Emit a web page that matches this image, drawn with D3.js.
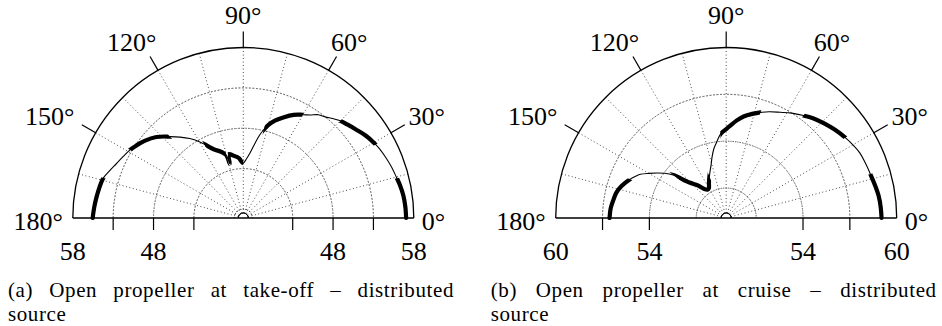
<!DOCTYPE html>
<html>
<head>
<meta charset="utf-8">
<script src="https://cdn.jsdelivr.net/npm/d3@7"></script>
<style>
  html, body { margin: 0; padding: 0; background: #fff; }
  svg { display: block; }
</style>
</head>
<body>
<svg id="chart" width="942" height="326"></svg>
<script>
// ---------------- DATA ----------------
// Panel (a): open propeller at take-off
const anglesA = [0,4,8,12,15,19,23,27,30,34,38,42,45,48,51,54,57,60,64,68,72,75,77,79,81,84,87,90,92,94,96,99,101,103,104,105,107,109,113,117,120,124,128,132,137,142,146,149,153,157,161,164,168,172,176,180];
const splA    = [57.05,57.0,56.9,56.7,56.5,56.3,56.05,55.8,55.55,55.15,54.65,54.2,53.9,53.45,53.0,52.7,52.1,51.65,51.1,50.35,49.55,48.8,48.1,47.3,46.3,45.0,44.2,43.7,43.9,44.3,44.5,44.7,44.9,45.0,43.8,44.9,45.3,45.6,46.1,47.0,47.8,48.75,49.6,50.45,51.6,52.4,52.9,53.25,53.6,54.0,54.5,54.9,55.1,55.25,55.4,55.54];
const thickA  = [[0,14.5],[29,45],[60,77],[90,103.5],[105,118],[132,149],[164,180]];
const domainA = [37.5, 58];
const ringsA  = [38, 43, 48, 53];
const ticksA  = [43, 48, 53];
const tickLabelsA = [48, 58];
const captionA = ["(a) Open propeller at take-off – distributed", "source"];

// Panel (b): open propeller at cruise
const anglesB = [0,4,8,12,17,21,26,30,34,39,44,49,53,58,63,68,72,76,80,84,88,91,94,97,100,103,106,109,112,116,120,123,127,131,136,141,144,147,150,153,155,158,163,167,171,175,180];
const splB    = [59.03,59.0,58.95,58.85,58.73,58.67,58.6,58.45,58.28,58.05,57.8,57.55,57.3,57.0,56.68,56.42,56.19,55.95,55.7,55.35,54.95,54.7,54.45,54.0,53.6,53.1,52.6,52.25,51.95,51.6,51.3,51.25,51.4,51.85,52.35,53.45,53.95,54.37,54.8,55.25,55.45,55.72,56.09,56.3,56.4,56.5,56.55];
const thickB  = [[0,17],[34,53],[72,94],[112,141],[158,180]];
const domainB = [49.4, 60];
const ringsB  = [51, 54, 57];
const ticksB  = [54, 57];
const tickLabelsB = [54, 60];
const captionB = ["(b) Open propeller at cruise – distributed", "source"];

const angleGrid  = [15,30,45,60,75,90,105,120,135,150,165];
const angleTicks = [0,30,60,90,120,150,180];

// ---------------- LAYOUT ----------------
const svg = d3.select("#chart");
const FONT = "'Liberation Serif', Tinos, 'Times New Roman', serif";
const R = 170.5, R0 = 5, baseY = 218;
const labelFS = 26, capFS = 21, capLS = 0.6;

const panels = [
  {cx: 243.3, angles: anglesA, spl: splA, thick: thickA, domain: domainA, rings: ringsA,
   ticks: ticksA, tickLabels: tickLabelsA, caption: captionA, capX0: 8, capX1: 454},
  {cx: 726.2, angles: anglesB, spl: splB, thick: thickB, domain: domainB, rings: ringsB,
   ticks: ticksB, tickLabels: tickLabelsB, caption: captionB, capX0: 490.7, capX1: 936.7}
];

const rad = d => d * Math.PI / 180;

panels.forEach((p, i) => {
  const g = svg.append("g").attr("transform", `translate(${p.cx},${baseY})`);
  const r = d3.scaleLinear().domain(p.domain).range([R0, R]);

  // dotted grid rings
  const arcHalf = d3.arc().startAngle(-Math.PI/2).endAngle(Math.PI/2);
  g.selectAll(".ring").data(p.rings).join("path")
    .attr("d", v => arcHalf({innerRadius: r(v), outerRadius: r(v)}))
    .attr("fill", "none").attr("stroke", "#222").attr("stroke-width", 0.9)
    .attr("stroke-dasharray", "0.9 2.6");
  // dotted spokes
  g.selectAll(".spoke").data(angleGrid).join("line")
    .attr("x1", a => R0 * Math.cos(rad(a))).attr("y1", a => -R0 * Math.sin(rad(a)))
    .attr("x2", a => R * Math.cos(rad(a))).attr("y2", a => -R * Math.sin(rad(a)))
    .attr("stroke", "#222").attr("stroke-width", 0.9).attr("stroke-dasharray", "0.9 2.6");

  // outer semicircle + baseline + inner small semicircle
  g.append("path").attr("d", arcHalf({innerRadius: R, outerRadius: R}))
    .attr("fill", "none").attr("stroke", "#000").attr("stroke-width", 1.3);
  g.append("line").attr("x1", -R).attr("x2", R).attr("y1", 0).attr("y2", 0)
    .attr("stroke", "#000").attr("stroke-width", 1.3);
  g.append("path").attr("d", arcHalf({innerRadius: R0, outerRadius: R0}))
    .attr("fill", "none").attr("stroke", "#000").attr("stroke-width", 0.9);

  // angular ticks
  g.selectAll(".atick").data(angleTicks.filter(a => a > 0 && a < 180)).join("line")
    .attr("x1", a => R * Math.cos(rad(a))).attr("y1", a => -R * Math.sin(rad(a)))
    .attr("x2", a => (R + 16) * Math.cos(rad(a))).attr("y2", a => -(R + 16) * Math.sin(rad(a)))
    .attr("stroke", "#000").attr("stroke-width", 1.2);

  // angular labels
  angleTicks.forEach(a => {
    const t = g.append("text").attr("font-family", FONT).attr("font-size", labelFS)
      .text(a + "°");
    const w = t.node().getComputedTextLength();
    const c = Math.cos(rad(a)), s = Math.sin(rad(a));
    if (a === 0) {
      t.attr("text-anchor", "start").attr("x", R + 8).attr("y", labelFS * 0.34 + 3);
    } else if (a === 180) {
      t.attr("text-anchor", "end").attr("x", -R - 10).attr("y", labelFS * 0.34 + 3);
    } else {
      const x = (R + 8.5 + 0.9 * w) * c, y = -(R + 32.5) * s;
      t.attr("text-anchor", "middle").attr("x", x).attr("y", y + labelFS * 0.34);
    }
  });

  // radial ticks (both sides) and labels
  const tickPos = p.ticks.flatMap(v => [-r(v), r(v)]);
  g.selectAll(".rtick").data(tickPos).join("line")
    .attr("x1", x => x).attr("x2", x => x).attr("y1", 0).attr("y2", 12)
    .attr("stroke", "#000").attr("stroke-width", 1.2);
  const labPos = p.tickLabels.flatMap(v => [{x: -r(v), v}, {x: r(v), v}]);
  g.selectAll(".rlab").data(labPos).join("text")
    .attr("font-family", FONT)
    .attr("x", d => d.x).attr("y", 42).attr("font-size", labelFS)
    .attr("text-anchor", "middle").text(d => d.v);

  // curve
  const pts = p.angles.map((a, k) => [a, p.spl[k]]);
  const line = d3.lineRadial()
    .angle(d => Math.PI/2 - rad(d[0]))
    .radius(d => r(d[1]))
    .curve(d3.curveCatmullRom.alpha(0.5));
  g.append("path").attr("d", line(pts)).attr("fill", "none")
    .attr("stroke", "#000").attr("stroke-width", 1.1).attr("stroke-linejoin", "round");

  // thick segments via wedge clip
  const clipId = "clip" + i;
  const clip = svg.append("clipPath").attr("id", clipId);
  const wedge = d3.arc().innerRadius(0).outerRadius(R + 30);
  p.thick.forEach(([a, b]) => {
    const aa = a === 0 ? -6 : a, bb = b === 180 ? 186 : b;
    clip.append("path").attr("transform", `translate(${p.cx},${baseY})`)
      .attr("d", wedge({startAngle: Math.PI/2 - rad(bb), endAngle: Math.PI/2 - rad(aa)}));
  });
  svg.append("g").attr("clip-path", `url(#${clipId})`)
    .append("path").attr("transform", `translate(${p.cx},${baseY})`)
    .attr("d", line(pts)).attr("fill", "none")
    .attr("stroke", "#000").attr("stroke-width", 4.2)
    .attr("stroke-linecap", "round").attr("stroke-linejoin", "round");

  // caption (justified first line)
  const words = p.caption[0].split(" ");
  const cap = svg.append("text").attr("font-family", FONT).attr("font-size", capFS)
    .attr("letter-spacing", capLS).attr("y", 297);
  const spans = words.map(wd => cap.append("tspan").text(wd));
  const widths = spans.map(s => s.node().getComputedTextLength());
  const total = d3.sum(widths);
  const gap = (p.capX1 - p.capX0 - total) / (words.length - 1);
  let xx = p.capX0;
  spans.forEach((s, k) => { s.attr("x", xx); xx += widths[k] + gap; });
  svg.append("text").attr("font-family", FONT).attr("font-size", capFS)
    .attr("letter-spacing", capLS)
    .attr("x", p.capX0).attr("y", 321).text(p.caption[1]);
});
</script>
</body>
</html>
